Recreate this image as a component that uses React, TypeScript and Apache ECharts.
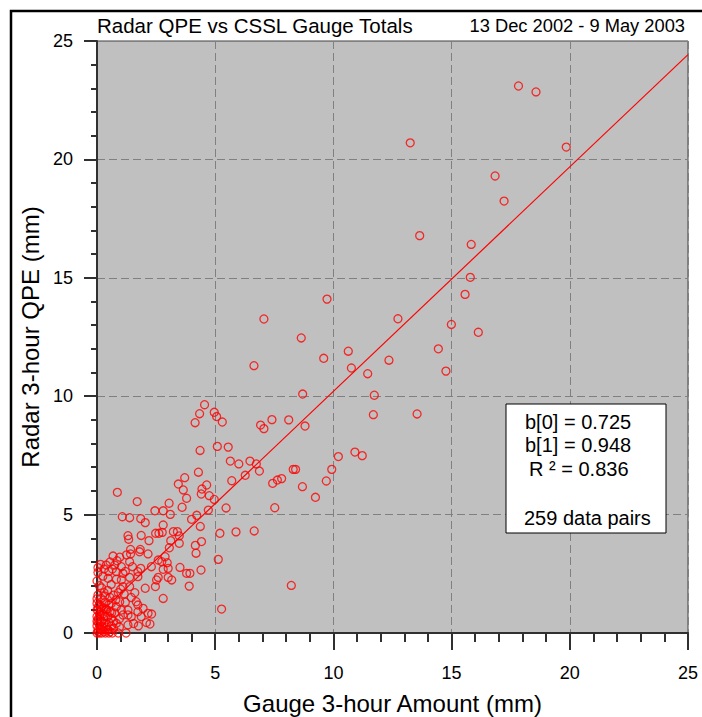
import React, { useEffect, useRef } from "react";
import * as echarts from "echarts";

// Gauge 3-hour amount (mm) — x values
const gauge = [
  17.83, 18.57, 13.25, 19.85, 16.84, 17.22, 13.65, 15.83, 15.79, 15.57,
  9.73, 7.06, 12.73, 14.99, 16.13, 8.64, 9.59, 10.63, 14.44, 10.76,
  12.35, 14.76, 11.45, 8.7, 11.73, 11.69, 13.54, 8.11, 8.8, 10.21,
  10.91, 11.22, 9.93, 8.3, 8.4, 7.81, 9.7, 8.69, 9.24, 8.22,
  6.64, 4.55, 4.34, 4.96, 5.06, 5.3, 4.15, 6.92, 7.06, 7.4,
  5.09, 5.55, 4.36, 5.64, 6.0, 6.47, 6.74, 6.87, 6.27, 5.7,
  4.29, 3.71, 7.63, 7.43, 4.44, 4.64, 4.41, 4.75, 3.65, 3.44,
  4.96, 3.79, 3.05, 3.6, 5.46, 2.45, 3.1, 7.52, 4.71, 4.22,
  4.0, 2.8, 4.37, 2.48, 2.62, 2.76, 3.23, 3.4, 3.48, 3.12,
  3.48, 3.06, 4.16, 4.19, 5.2, 5.88, 6.65, 5.13, 5.27, 2.88,
  2.59, 2.74, 2.97, 2.8, 3.01, 3.51, 3.79, 3.93, 4.4, 2.59,
  2.52, 3.01, 3.16, 2.47, 3.9, 2.8, 2.31, 2.24, 0.86, 1.7,
  1.07, 1.38, 1.85, 2.04, 1.31, 1.34, 1.87, 1.42, 1.83, 0.04,
  0.04, 0.39, 0.68, 0.75, 0.82, 0.96, 1.03, 1.1, 1.42, 1.38,
  1.8, 2.16, 1.85, 0.47, 0.82, 1.03, 1.38, 1.1, 1.38, 1.73,
  1.73, 2.04, 0.04, 0.18, 0.33, 0.0, 0.0, 0.11, 0.04, 0.04,
  0.25, 0.47, 0.6, 0.82, 0.96, 1.03, 1.1, 1.31, 1.31, 1.45,
  1.73, 1.73, 1.87, 2.16, 2.09, 1.31, 0.82, 0.6, 0.39, 1.66,
  1.95, 1.23, 2.8, 4.42,
  0.0, 0.05, 0.1, 0.15, 0.2, 0.3, 0.35, 0.4, 0.5, 0.55,
  0.0, 0.05, 0.1, 0.2, 0.25, 0.3, 0.15, 0.0, 0.1, 0.2,
  0.35, 0.45, 0.5, 0.0, 0.08, 0.22, 0.28, 0.4, 0.55, 0.6,
  0.65, 0.7, 0.75, 0.9, 0.95, 0.3, 0.2, 0.45, 0.55, 0.1,
  0.0, 0.25, 0.6, 0.7, 0.9, 0.15, 0.3, 0.5, 0.65, 0.55,
  0.85, 1.2, 1.25, 1.5, 1.6, 1.45, 1.2, 1.55, 1.75, 0.95,
  0.7, 0.0, 0.12, 0.35, 0.45, 0.05, 0.18, 0.3, 0.5, 0.62,
  0.8, 1.15, 1.0, 2.3, 2.2,
];

// Radar 3-hour QPE (mm) — y values
const radar = [
  23.1, 22.85, 20.7, 20.52, 19.3, 18.24, 16.78, 16.41, 15.02, 14.3,
  14.1, 13.26, 13.27, 13.03, 12.7, 12.46, 11.6, 11.9, 12.0, 11.19,
  11.52, 11.06, 10.95, 10.09, 10.04, 9.22, 9.25, 9.0, 8.74, 7.45,
  7.64, 7.49, 6.91, 6.91, 6.91, 6.52, 6.42, 6.18, 5.73, 2.01,
  11.29, 9.64, 9.26, 9.32, 9.14, 8.91, 8.88, 8.78, 8.63, 9.01,
  7.88, 7.85, 7.71, 7.26, 7.14, 7.26, 7.14, 6.84, 6.66, 6.43,
  6.79, 6.56, 6.46, 6.32, 6.08, 6.25, 5.87, 5.8, 6.04, 6.29,
  5.64, 5.69, 5.48, 5.31, 5.28, 5.16, 5.01, 5.29, 5.19, 4.97,
  4.8, 4.56, 4.5, 4.21, 4.21, 4.25, 4.28, 4.28, 4.1, 3.9,
  3.79, 3.6, 3.7, 3.37, 4.21, 4.27, 4.31, 3.11, 1.01, 3.22,
  3.08, 3.01, 2.97, 2.69, 2.73, 2.77, 2.52, 2.52, 2.66, 2.35,
  2.24, 2.35, 2.24, 1.96, 1.98, 1.46, 0.8, 0.38, 5.94, 5.55,
  4.91, 4.87, 4.83, 4.66, 4.11, 3.96, 4.12, 3.53, 3.53, 2.76,
  2.56, 2.87, 3.25, 2.87, 2.59, 3.2, 2.8, 2.52, 3.34, 3.01,
  3.43, 3.34, 2.73, 2.31, 2.27, 2.24, 2.35, 1.96, 1.96, 2.59,
  2.38, 1.89, 1.6, 1.46, 1.56, 1.25, 0.97, 0.76, 0.48, 0.13,
  0.13, 0.13, 1.25, 1.11, 1.32, 0.97, 0.76, 0.97, 0.76, 0.69,
  1.18, 0.9, 0.69, 0.83, 0.44, 0.34, 0.41, 0.62, 0.97, 1.32,
  1.04, 0.0, 5.16, 3.86,
  0.0, 0.05, 0.0, 0.2, 0.0, 0.05, 0.0, 0.25, 0.0, 0.05,
  0.3, 0.6, 0.35, 0.5, 0.8, 0.4, 1.0, 1.45, 1.2, 1.1,
  1.3, 0.7, 0.45, 0.7, 0.9, 0.25, 0.6, 1.0, 0.9, 0.3,
  0.0, 0.5, 0.85, 0.0, 0.6, 1.7, 1.9, 1.8, 1.5, 2.0,
  2.2, 2.4, 2.05, 1.6, 1.7, 2.9, 2.7, 2.6, 2.7, 3.0,
  3.05, 2.6, 3.3, 2.8, 1.7, 1.5, 1.3, 0.4, 0.3, 0.25,
  0.2, 0.5, 0.55, 0.7, 0.15, 1.1, 0.15, 1.05, 1.2, 0.85,
  1.4, 1.65, 1.85, 2.8, 3.9,
];

const coef = [0.725, 0.948];
const rSquared = 0.836;
const axisTicks = [0, 5, 10, 15, 20, 25];

const titleText = "Radar QPE vs CSSL Gauge Totals";
const periodText = "13 Dec 2002 - 9 May 2003";

export default function App() {
  const ref = useRef<HTMLDivElement>(null);

  useEffect(() => {
    if (!ref.current) return;
    const chart = echarts.init(ref.current, null, { renderer: "svg" });
    const points = gauge.map((g, i) => [g, radar[i]]);
    const xMax = axisTicks[axisTicks.length - 1];
    const fit = [
      [0, coef[0]],
      [xMax, coef[0] + coef[1] * xMax],
    ];
    const font = "'Liberation Sans', Arial, Helvetica, sans-serif";
    const axisCommon = (name: string, isX: boolean) => ({
      type: "value",
      min: axisTicks[0],
      max: xMax,
      interval: 5,
      name,
      nameLocation: "middle",
      nameGap: isX ? 58 : 52,
      nameTextStyle: { fontSize: 24, color: "#000", fontFamily: font },
      axisLine: { show: true, onZero: false, lineStyle: { color: "#303030", width: 2 } },
      axisTick: { show: true, inside: false, length: isX ? 17 : 13, lineStyle: { color: "#303030", width: 2 } },
      minorTick: { show: true, splitNumber: 5, length: isX ? 9 : 6, lineStyle: { color: "#303030", width: 2 } },
      axisLabel: { margin: isX ? 31 : 24, fontSize: 18, color: "#000", fontFamily: font },
      splitLine: { show: true, lineStyle: { color: "#808080", type: [8, 4], width: 1 } },
      minorSplitLine: { show: false },
    });

    chart.setOption({
      animation: false,
      backgroundColor: "#ffffff",
      textStyle: { fontFamily: font },
      grid: {
        left: 97,
        right: 14,
        top: 41,
        bottom: 84,
        outerBoundsMode: "none",
        containLabel: false,
        show: true,
        backgroundColor: "#c0c0c0",
        borderColor: "#404040",
        borderWidth: 1,
      },
      xAxis: axisCommon("Gauge 3-hour Amount (mm)", true),
      yAxis: axisCommon("Radar 3-hour QPE (mm)", false),
      series: [
        {
          type: "scatter",
          data: points,
          symbol: "circle",
          symbolSize: 8,
          itemStyle: { color: "rgba(0,0,0,0)", borderColor: "#ff0000", borderWidth: 1.3 },
          z: 3,
        },
        {
          type: "line",
          data: fit,
          symbol: "none",
          lineStyle: { color: "#ff0000", width: 1.2 },
          z: 4,
        },
      ],
      graphic: [
        {
          type: "rect",
          shape: { x: 11, y: 11, width: 800, height: 800 },
          style: { fill: "none", stroke: "#000", lineWidth: 2.5 },
          silent: true,
          z: 100,
        },
        {
          type: "text",
          x: 97,
          y: 25,
          style: { text: titleText, fontSize: 20.5, fill: "#000", fontFamily: font, textVerticalAlign: "middle" },
          z: 100,
        },
        {
          type: "text",
          x: 685,
          y: 25,
          style: { text: periodText, fontSize: 18.3, fill: "#000", fontFamily: font, textAlign: "right", textVerticalAlign: "middle" },
          z: 100,
        },
        {
          type: "rect",
          shape: { x: 506, y: 404, width: 160, height: 129 },
          style: { fill: "#ffffff", stroke: "#000", lineWidth: 1 },
          z: 100,
        },
        {
          type: "text",
          x: 525,
          y: 422,
          style: { text: `b[0] = ${coef[0].toFixed(3)}`, fontSize: 20, fill: "#000", fontFamily: font, textVerticalAlign: "middle" },
          z: 101,
        },
        {
          type: "text",
          x: 525,
          y: 445,
          style: { text: `b[1] = ${coef[1].toFixed(3)}`, fontSize: 20, fill: "#000", fontFamily: font, textVerticalAlign: "middle" },
          z: 101,
        },
        {
          type: "text",
          x: 529,
          y: 469,
          style: { text: `R ² = ${rSquared.toFixed(3)}`, fontSize: 20, fill: "#000", fontFamily: font, textVerticalAlign: "middle" },
          z: 101,
        },
        {
          type: "text",
          x: 524,
          y: 518,
          style: { text: `${gauge.length} data pairs`, fontSize: 20, fill: "#000", fontFamily: font, textVerticalAlign: "middle" },
          z: 101,
        },
      ],
    });
    return () => chart.dispose();
  }, []);

  return (
    <div
      ref={ref}
      style={{ position: "fixed", left: 0, top: 0, width: 702, height: 717, background: "#fff" }}
    />
  );
}
